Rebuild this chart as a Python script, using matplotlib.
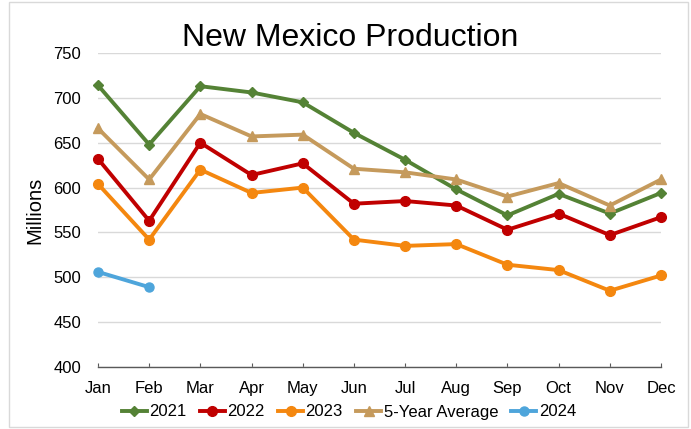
import matplotlib.pyplot as plt
from matplotlib.patches import Rectangle

plt.rcParams['font.family'] = ['Liberation Sans', 'DejaVu Sans']

months = ["Jan", "Feb", "Mar", "Apr", "May", "Jun", "Jul", "Aug", "Sep", "Oct", "Nov", "Dec"]
y2021 = [714, 648, 713, 706, 695, 661, 631, 598, 569, 593, 571, 594]
y2022 = [632, 563, 650, 614, 627, 582, 585, 580, 553, 571, 547, 567]
y2023 = [604, 542, 620, 594, 600, 542, 535, 537, 514, 508, 485, 502]
avg5 = [666, 609, 682, 657, 659, 621, 617, 609, 590, 605, 580, 609]
y2024 = [506, 489]

fig = plt.figure(figsize=(6.91, 4.29), dpi=100)
ax = fig.add_axes([98 / 691, 1 - 367 / 429, (661 - 98) / 691, (367 - 53) / 429])

x = list(range(12))
ax.plot(x, y2021, color="#548235", marker="D", markersize=5.5, linewidth=2.8, label="2021")
ax.plot(x, y2022, color="#C00000", marker="o", markersize=7, linewidth=2.8, label="2022")
ax.plot(x, y2023, color="#F4870F", marker="o", markersize=7, linewidth=2.8, label="2023")
ax.plot(x, avg5, color="#C59A5C", marker="^", markersize=7.5, linewidth=2.8, label="5-Year Average")
ax.plot(x[:2], y2024, color="#4EA5DB", marker="o", markersize=6.5, linewidth=2.8, label="2024")

ax.set_xlim(0, 11)
ax.set_ylim(400, 750)
ax.set_yticks(range(400, 751, 50))
ax.set_xticks(x)
ax.set_xticklabels(months)
ax.grid(axis="y", color="#D9D9D9", linewidth=1)
ax.set_axisbelow(True)
for s in ["top", "left", "right"]:
    ax.spines[s].set_visible(False)
ax.spines["bottom"].set_color("#595959")
ax.spines["bottom"].set_linewidth(1)
ax.tick_params(axis="x", direction="in", length=3, color="#595959", labelsize=12, pad=10)
ax.tick_params(axis="y", length=0, labelsize=12, pad=12)
ax.set_ylabel("Millions", fontsize=14.5)
ax.yaxis.set_label_coords(-54 / 563, 0.5)
for ln in ax.lines:
    ln.set_clip_on(False)

fig.text(350 / 691, 1 - 46 / 429, "New Mexico Production", fontsize=23, ha="center", va="baseline")

fig.legend(loc="center", bbox_to_anchor=(349 / 691, 1 - 412 / 429), ncol=5, frameon=False,
           fontsize=12, handlelength=1.5, handletextpad=0.15, columnspacing=0.8)

fig.patches.append(Rectangle((9 / 691, 2 / 429), 679 / 691, 425 / 429, transform=fig.transFigure,
                             fill=False, edgecolor="#D9D9D9", linewidth=1))

fig.savefig("out.png", dpi=100)
